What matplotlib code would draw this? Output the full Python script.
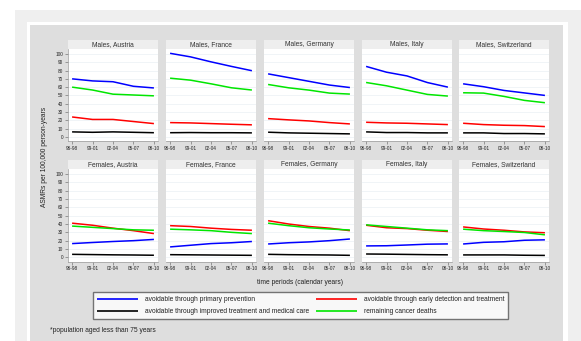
import matplotlib
matplotlib.use("Agg")
import matplotlib.pyplot as plt
from matplotlib.patches import Rectangle

plt.rcParams['font.family'] = ['Liberation Sans', 'DejaVu Sans']

periods = ['96-98', '99-01', '02-04', '05-07', '08-10']
countries = ['Austria', 'France', 'Germany', 'Italy', 'Switzerland']
yticks = [0, 10, 20, 30, 40, 50, 60, 70, 80, 90, 100]

# Males (order: Austria, France, Germany, Italy, Switzerland)
male_primary = [[70, 67.5, 66.5, 61, 59], [100.8, 96.5, 90.5, 85, 79.8],
                [76, 71.5, 67, 62.5, 59.5], [85, 78, 73.5, 65.5, 60],
                [64, 60.5, 56, 53, 50]]
male_early = [[24, 21, 21, 18.5, 16], [17.2, 16.8, 16, 15.2, 14.5],
              [22, 20.5, 19.2, 17.2, 15.6], [17.6, 16.8, 16.4, 15.6, 14.8],
              [16.4, 14.8, 14, 13.6, 12.4]]
male_treat = [[6, 5.5, 6, 5.5, 5], [5, 5.2, 5, 5, 4.8],
              [5.6, 4.8, 4.4, 4, 3.6], [6, 5.2, 5.2, 4.8, 4.8],
              [4.8, 4.8, 4, 4, 3.6]]
male_remain = [[60, 56.5, 51.5, 50.5, 49.5], [70.8, 68.4, 64, 59.2, 56.5],
               [63.2, 59.2, 56.4, 52.8, 51.6], [65.6, 61.6, 56.4, 51.2, 49.2],
               [53.2, 52.8, 48.8, 44, 41.2]]

# Females
female_primary = [[16.5, 17.8, 19, 20, 21.5], [12.5, 14.5, 16.5, 17.5, 19],
                  [16, 17.5, 18.5, 20, 22], [13.7, 13.9, 14.8, 15.8, 16.1],
                  [16, 18, 18.7, 20.5, 21]]
female_early = [[41, 38.5, 35, 32, 28.5], [38, 37, 35, 33.5, 32.5],
                [44, 40, 37, 35, 32], [38.5, 35.5, 34.5, 32.5, 31],
                [36.5, 34, 32.5, 30.5, 29.5]]
female_treat = [[3.6, 3.3, 3, 2.8, 2.5], [3.2, 3, 2.8, 2.6, 2.4],
                [3.6, 3.2, 3, 2.8, 2.4], [4, 3.8, 3.5, 3.2, 3],
                [2.9, 2.9, 2.9, 2.5, 2.3]]
female_remain = [[37.5, 36, 34.5, 33, 32.5], [33.8, 33, 32, 30, 28.5],
                 [41, 38, 35.5, 34, 32.8], [39, 37, 35, 33, 32],
                 [33.8, 32, 31, 29.8, 27]]

series_labels = ['avoidable through primary prevention',
                 'avoidable through early detection and treatment',
                 'avoidable through improved treatment and medical care',
                 'remaining cancer deaths']
series_colors = ['#0000ff', '#ff0000', '#000000', '#00e600']

W, H = 581, 341
fig = plt.figure(figsize=(W / 100, H / 100), dpi=100)
fig.patch.set_facecolor('white')


def fb(x0, y0, x1, y1):
    return [x0 / W, 1 - y1 / H, (x1 - x0) / W, (y1 - y0) / H]


def frect(x0, y0, x1, y1, color, z=0, **kw):
    b = fb(x0, y0, x1, y1)
    r = Rectangle((b[0], b[1]), b[2], b[3], transform=fig.transFigure,
                  facecolor=color, edgecolor='none', zorder=z, **kw)
    fig.add_artist(r)


# backgrounds
frect(15, 10, 581, 341, '#efefef', z=-3)
frect(27, 22, 568, 341, '#ffffff', z=-2)
frect(30, 25, 563, 341, '#dedede', z=-1)

col_x = [68, 166, 264, 362, 459]
col_w = 90
rows = [
    ('Males', 49, 141, [male_primary, male_early, male_treat, male_remain]),
    ('Females', 169, 261.5, [female_primary, female_early, female_treat, female_remain]),
]

fs = 4.8
tfs = 3.4
handles = []
for sex, ytop, ybot, data in rows:
    for ci, country in enumerate(countries):
        x0 = col_x[ci]
        ax = fig.add_axes(fb(x0, ytop, x0 + col_w, ybot))
        ax.set_facecolor('white')
        xs = list(range(len(periods)))
        for si in range(4):
            ln, = ax.plot(xs, data[si][ci], color=series_colors[si], lw=1.1,
                          solid_capstyle='butt', zorder=3)
            if sex == 'Males' and ci == 0:
                handles.append(ln)
        ax.set_xlim(-0.2, 4.2)
        ax.set_ylim(-5, 106)
        ax.set_yticks(yticks)
        ax.set_xticks(xs)
        ax.set_xticklabels(periods)
        ax.grid(axis='y', color='#eef3f6', lw=0.6, zorder=0)
        for s in ['top', 'right']:
            ax.spines[s].set_visible(False)
        ax.spines['bottom'].set_color('#9a9a9a')
        ax.spines['bottom'].set_linewidth(0.5)
        ax.tick_params(axis='x', length=2, width=0.5, color='#777777',
                       labelsize=tfs, labelcolor='#222222', pad=1.5)
        if ci == 0:
            ax.spines['left'].set_color('#9a9a9a')
            ax.spines['left'].set_linewidth(0.5)
            ax.tick_params(axis='y', length=2, width=0.5, color='#777777',
                           labelsize=tfs, labelcolor='#222222', pad=1.5)
        else:
            ax.spines['left'].set_visible(False)
            ax.tick_params(axis='y', length=0, labelleft=False)
        # title strip
        frect(x0, ytop - 9, x0 + col_w, ytop, '#eeeeee', z=1)
        fig.text((x0 + col_w / 2) / W, 1 - (ytop - 4.5) / H, f'{sex}, {country}',
                 ha='center', va='center', fontsize=fs, color='#333333')

fig.text(45 / W, 1 - 157 / H, 'ASMRs per 100,000 person-years', rotation=90,
         ha='center', va='center', fontsize=fs, color='#222222')
fig.text(300 / W, 1 - 282 / H, 'time periods (calendar years)',
         ha='center', va='center', fontsize=fs, color='#222222')
fig.text(50 / W, 1 - 330 / H, '*population aged less than 75 years',
         ha='left', va='center', fontsize=fs, color='#222222')

order = [0, 2, 1, 3]
lb = fb(89, 290, 512, 321)
leg = fig.legend([handles[i] for i in order], [series_labels[i] for i in order],
                 ncol=2, loc='center', bbox_to_anchor=(lb[0] + lb[2] / 2, lb[1] + lb[3] / 2),
                 fontsize=fs, frameon=True, fancybox=False, handlelength=6.2,
                 handletextpad=1.0, columnspacing=1.0, labelspacing=0.7,
                 borderpad=0.6, borderaxespad=0)
leg.get_frame().set_edgecolor('#555555')
leg.get_frame().set_linewidth(1.0)
for t in leg.get_texts():
    t.set_color('#222222')
for l in leg.get_lines():
    l.set_linewidth(1.2)

fig.savefig('out.png', dpi=100)
